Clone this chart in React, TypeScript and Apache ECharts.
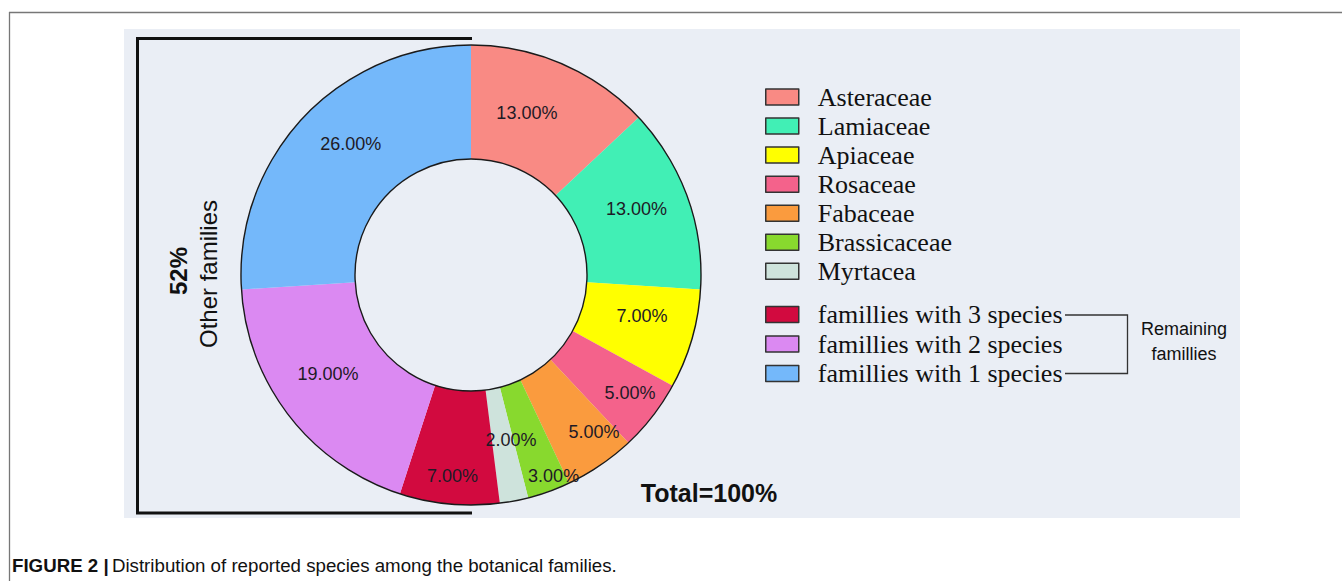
import React, { useEffect, useRef } from "react";
import * as echarts from "echarts";

const families = [
  "Asteraceae",
  "Lamiaceae",
  "Apiaceae",
  "Rosaceae",
  "Fabaceae",
  "Brassicaceae",
  "Myrtacea",
  "famillies with 3 species",
  "famillies with 2 species",
  "famillies with 1 species",
];
const shares = [13, 13, 7, 5, 5, 3, 2, 7, 19, 26];
const colors = [
  "#F98A84",
  "#41EFB5",
  "#FFFF00",
  "#F4628B",
  "#FA9B3E",
  "#88D92E",
  "#CEE3DC",
  "#D20A3F",
  "#DB89F2",
  "#74B8FA",
];
const namedFamilies = families.slice(0, 7);
const groupedFamilies = families.slice(7);
// small nudges of the percentage labels, as placed in the original figure
const labelNudges: [number, number][] = [
  [-14, 0],
  [0, -6],
  [2, -8],
  [20, 10],
  [24, 11],
  [23, 35],
  [7, -8],
  [-2, 26],
  [-4, -9],
  [8, -11],
];

const serif = '"Liberation Serif", "Times New Roman", serif';
const sans = 'Arial, "Liberation Sans", Helvetica, sans-serif';

export default function App() {
  const ref = useRef<HTMLDivElement>(null);
  useEffect(() => {
    if (!ref.current) return;
    const chart = echarts.init(ref.current, undefined, { renderer: "svg" });
    const legendCommon = {
      orient: "vertical" as const,
      left: 765,
      padding: 0,
      icon: "rect",
      itemWidth: 33,
      itemHeight: 16,
      selectedMode: false,
      itemStyle: { borderColor: "#333", borderWidth: 1.5 },
      textStyle: {
        fontFamily: serif,
        fontSize: 26,
        lineHeight: 26,
        color: "#111",
        padding: [0, 0, 0, 14],
      },
    };
    chart.setOption({
      animation: false,
      backgroundColor: "#ffffff",
      legend: [
        { ...legendCommon, top: 84, itemGap: 3.05, data: namedFamilies },
        { ...legendCommon, top: 301.5, itemGap: 3.5, data: groupedFamilies },
      ],
      series: [
        {
          type: "pie",
          center: [471, 275],
          radius: [116, 230],
          startAngle: 90,
          clockwise: true,
          z: 3,
          silent: true,
          data: families.map((n, i) => ({
            name: n,
            value: shares[i],
            itemStyle: { color: colors[i] },
          })),
          itemStyle: { borderWidth: 0 },
          label: {
            show: true,
            position: "inside",
            formatter: (p: any) => `${Number(p.value).toFixed(2)}%`,
            fontFamily: sans,
            fontSize: 18,
            color: "#1e1a26",
          },
          labelLine: { show: false },
          labelLayout: (p: any) => ({
            dx: labelNudges[p.dataIndex][0],
            dy: labelNudges[p.dataIndex][1],
          }),
          emphasis: { disabled: true },
        },
        {
          type: "pie",
          center: [471, 275],
          radius: [116, 230],
          startAngle: 90,
          z: 4,
          silent: true,
          data: [{ name: "ring", value: 1 }],
          itemStyle: {
            color: "rgba(0,0,0,0)",
            borderColor: "#1a1a1a",
            borderWidth: 1.4,
          },
          label: { show: false },
          labelLine: { show: false },
          emphasis: { disabled: true },
        },
      ],
      graphic: [
        {
          type: "rect",
          z: -10,
          silent: true,
          shape: { x: 124, y: 29, width: 1116, height: 489 },
          style: { fill: "#EAEEF5" },
        },
        {
          type: "line",
          silent: true,
          shape: { x1: 9, y1: 12.5, x2: 1342, y2: 12.5 },
          style: { stroke: "#777", lineWidth: 1.3 },
        },
        {
          type: "line",
          silent: true,
          shape: { x1: 9.5, y1: 12, x2: 9.5, y2: 581 },
          style: { stroke: "#777", lineWidth: 1.3 },
        },
        {
          type: "polyline",
          silent: true,
          shape: {
            points: [
              [472, 38.5],
              [137.5, 38.5],
              [137.5, 513],
              [472, 513],
            ],
          },
          style: { stroke: "#111", lineWidth: 3, fill: "none" },
        },
        {
          type: "text",
          silent: true,
          x: 178,
          y: 271,
          rotation: Math.PI / 2,
          style: {
            text: "52%",
            font: `bold 24px ${sans}`,
            fill: "#111",
            align: "center",
            verticalAlign: "middle",
          },
        },
        {
          type: "text",
          silent: true,
          x: 208,
          y: 274,
          rotation: Math.PI / 2,
          style: {
            text: "Other families",
            font: `24px ${sans}`,
            fill: "#111",
            align: "center",
            verticalAlign: "middle",
          },
        },
        {
          type: "text",
          silent: true,
          x: 709,
          y: 493,
          style: {
            text: "Total=100%",
            font: `bold 25px ${sans}`,
            fill: "#111",
            align: "center",
            verticalAlign: "middle",
          },
        },
        {
          type: "polyline",
          silent: true,
          shape: {
            points: [
              [1065, 315],
              [1127.5, 315],
              [1127.5, 373.5],
              [1065, 373.5],
            ],
          },
          style: { stroke: "#333", lineWidth: 1.3, fill: "none" },
        },
        {
          type: "text",
          silent: true,
          x: 1184,
          y: 341,
          style: {
            text: "Remaining\nfamillies",
            font: `18px ${sans}`,
            lineHeight: 25,
            fill: "#111",
            align: "center",
            verticalAlign: "middle",
          },
        },
        {
          type: "text",
          silent: true,
          x: 12,
          y: 565,
          style: {
            text: "{b|FIGURE 2 |} {r|Distribution of reported species among the botanical families.}",
            verticalAlign: "middle",
            rich: {
              b: { font: `bold 18.7px ${sans}`, fill: "#111" },
              r: { font: `18.7px ${sans}`, fill: "#111" },
            },
          },
        },
      ],
    });
    return () => chart.dispose();
  }, []);
  return (
    <div
      ref={ref}
      style={{ position: "absolute", left: 0, top: 0, width: 1342, height: 581 }}
    />
  );
}
